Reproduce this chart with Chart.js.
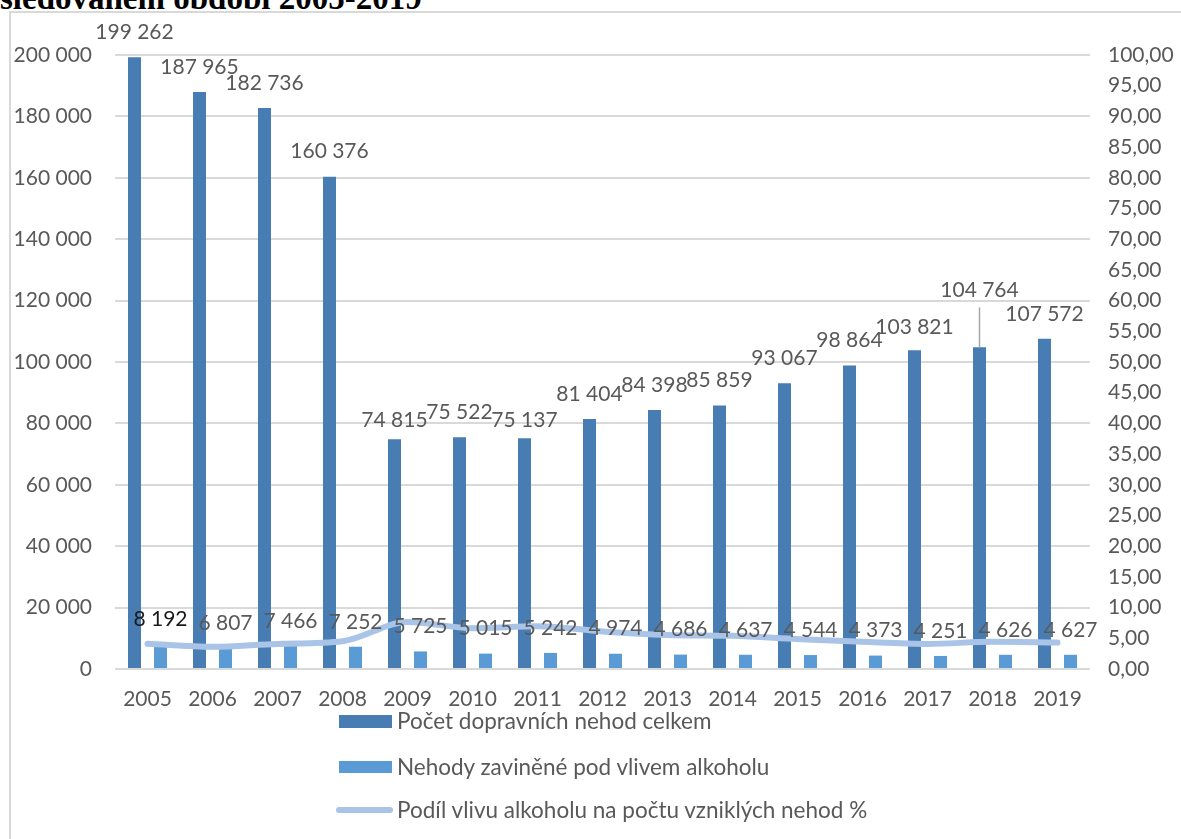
<!DOCTYPE html>
<html>
<head>
<meta charset="utf-8">
<script src="https://cdn.jsdelivr.net/npm/chart.js@4.4.1/dist/chart.umd.min.js"></script>
<style>
  html, body { margin:0; padding:0; background:#fff; overflow:hidden; }
  body { width:1181px; height:839px; position:relative; }
  #title { position:absolute; left:0; top:-18px; font: bold 33px "Liberation Serif", "Times New Roman", serif; line-height:33px; color:#000; white-space:nowrap; }
  #frame { position:absolute; left:9px; top:11px; width:1250px; height:900px; border:2px solid #d9d9d9; box-sizing:border-box; }
  #chartWrap { position:absolute; left:0; top:0; width:1181px; height:839px; }
  .leg { position:absolute; left:0; top:0; font: 22.5px Lato, "Open Sans", sans-serif; color:#595959; white-space:nowrap; }
  .legRow { position:absolute; height:24px; line-height:24px; }
  .legSw { position:absolute; }
</style>
</head>
<body>
<div id="title">sledovaném období 2005-2019</div>
<div id="frame"></div>
<div id="chartWrap"><canvas id="c" width="1181" height="839"></canvas></div>
<div class="leg" id="legend"></div>
<script>
// ---- data ----
const years = ['2005','2006','2007','2008','2009','2010','2011','2012','2013','2014','2015','2016','2017','2018','2019'];
const totalAccidents = [199262,187965,182736,160376,74815,75522,75137,81404,84398,85859,93067,98864,103821,104764,107572];
const alcoholAccidents = [8192,6807,7466,7252,5725,5015,5242,4974,4686,4637,4544,4373,4251,4626,4627];
const alcoholShare = [4.11,3.62,4.09,4.52,7.65,6.64,6.98,6.11,5.55,5.40,4.88,4.42,4.09,4.42,4.30];
const seriesNames = ['Počet dopravních nehod celkem','Nehody zaviněné pod vlivem alkoholu','Podíl vlivu alkoholu na počtu vzniklých nehod %'];

// ---- styles ----
const C_DARK = '#487db4';
const C_LIGHT = '#5b9bd5';
const C_LINE = '#a9c4e6';
const C_TEXT = '#595959';
const FONT = 'Lato, "Open Sans", sans-serif';

function fmtThousands(v){ return String(Math.round(v)).replace(/\B(?=(\d{3})+(?!\d))/g,' '); }

const labelPlugin = {
  id:'barLabels',
  afterDatasetsDraw(chart){
    const ctx = chart.ctx;
    ctx.save();
    ctx.font = '21px ' + FONT;
    ctx.textAlign = 'center';
    ctx.textBaseline = 'middle';
    const shiftTotal = {4:6, 6:7, 12:2};
    const m0 = chart.getDatasetMeta(0);
    m0.data.forEach((el,i)=>{
      let y = el.y - 25 + (shiftTotal[i]||0);
      if (i === 13) {
        y = el.y - 57;
        ctx.strokeStyle = '#a6a6a6';
        ctx.lineWidth = 1.5;
        ctx.beginPath();
        ctx.moveTo(el.x, y + 17);
        ctx.lineTo(el.x, el.y);
        ctx.stroke();
      }
      ctx.fillStyle = C_TEXT;
      ctx.fillText(fmtThousands(totalAccidents[i]), el.x, y);
    });
    const m1 = chart.getDatasetMeta(1);
    m1.data.forEach((el,i)=>{
      ctx.fillStyle = i === 0 ? '#1a1a1a' : C_TEXT;
      ctx.fillText(fmtThousands(alcoholAccidents[i]), el.x, el.y - 25);
    });
    ctx.restore();
  }
};

new Chart(document.getElementById('c'), {
  data: {
    labels: years,
    datasets: [
      { type:'bar', label: seriesNames[0], data: totalAccidents, backgroundColor: C_DARK, yAxisID:'y', order:1,
        categoryPercentage:0.8, barPercentage:0.5 },
      { type:'bar', label: seriesNames[1], data: alcoholAccidents, backgroundColor: C_LIGHT, yAxisID:'y', order:2,
        categoryPercentage:0.8, barPercentage:0.5 },
      { type:'line', label: seriesNames[2], data: alcoholShare, borderColor: C_LINE, backgroundColor: C_LINE,
        borderWidth:6, pointRadius:0, tension:0.35, cubicInterpolationMode:'monotone', borderCapStyle:'round', borderJoinStyle:'round',
        yAxisID:'y1', order:0 }
    ]
  },
  options: {
    responsive:false,
    animation:false,
    devicePixelRatio:1,
    layout:{ padding:{ top:55, bottom:125, left:0, right:0 } },
    plugins:{ legend:{ display:false }, tooltip:{ enabled:false } },
    scales:{
      x:{
        grid:{ display:false, drawTicks:false },
        border:{ display:false },
        ticks:{ color:C_TEXT, font:{ family:FONT, size:21 }, padding:18, maxRotation:0, autoSkip:false },
        afterFit(s){ s.height = 45; }
      },
      y:{
        position:'left', min:0, max:200000,
        grid:{ color:'#d9d9d9', lineWidth:2, drawTicks:false },
        border:{ display:false },
        ticks:{ stepSize:20000, color:C_TEXT, font:{ family:FONT, size:21 }, padding:23,
          callback:(v)=>fmtThousands(v) },
        afterFit(s){ s.width = 115; }
      },
      y1:{
        position:'right', min:0, max:100,
        grid:{ display:false, drawTicks:false },
        border:{ display:false },
        ticks:{ stepSize:5, color:C_TEXT, font:{ family:FONT, size:21 }, padding:18, autoSkip:false,
          callback:(v)=>Number(v).toFixed(2).replace('.',',') },
        afterFit(s){ s.width = 91; }
      }
    }
  },
  plugins:[labelPlugin]
});

// ---- HTML legend ----
const legendRows = [
  { top:709, sw:'left:-58px;top:6px;width:53px;height:13px;background:'+C_DARK },
  { top:755, sw:'left:-58px;top:6px;width:53px;height:12px;background:'+C_LIGHT },
  { top:798, sw:'left:-61px;top:9px;width:57px;height:6px;border-radius:3px;background:'+C_LINE }
];
const leg = document.getElementById('legend');
legendRows.forEach((r,i)=>{
  const row = document.createElement('div');
  row.className = 'legRow';
  row.style.left = '397px';
  row.style.top = r.top + 'px';
  row.innerHTML = '<div class="legSw" style="'+r.sw+'"></div><div style="position:absolute;left:0;top:0">'+seriesNames[i]+'</div>';
  leg.appendChild(row);
});
</script>
</body>
</html>
